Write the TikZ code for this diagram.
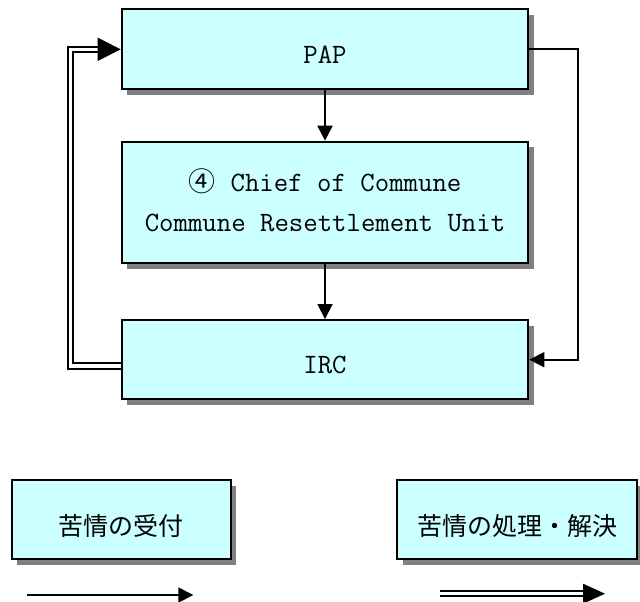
\documentclass[tikz,border=0pt]{standalone}
\usepackage{fontspec}
\newfontfamily\jpfont{Noto Sans CJK JP}
\usetikzlibrary{arrows.meta,shadows}
\definecolor{boxfill}{HTML}{CCFFFF}
\definecolor{shadowgray}{HTML}{808080}

\begin{document}
\begin{tikzpicture}[x=1pt,y=-1pt,
  box/.style={draw=black, line width=2pt, fill=boxfill, inner sep=0pt,
    drop shadow={shadow xshift=5.5pt, shadow yshift=-5.5pt, opacity=1, fill=shadowgray}},
  latin/.style={font=\ttfamily\fontsize{28}{39.3}\selectfont},
  cjk/.style={font=\jpfont\fontsize{25}{30}\selectfont},
  arr/.style={line width=1.8pt, -{Triangle[length=15pt, width=15pt]}},
  dbl/.style={double=white, double distance=3.5pt, line width=2pt}
]
\useasboundingbox (0,0) rectangle (640,602);

% main flow boxes
\node[box, latin, minimum width=406.6pt, minimum height=80pt,
      text height=27.7pt, text depth=0pt] (pap) at (325,49.3) {PAP};
\node[box, latin, align=center, minimum width=406.6pt, minimum height=121.6pt,
      text height=57pt, text depth=0pt] (mid) at (325,202.5)
      {{\jpfont\fontsize{27}{30}\selectfont ④}\hspace{15pt}Chief of Commune\\Commune Resettlement Unit};
\node[box, latin, minimum width=406.6pt, minimum height=79.3pt,
      text height=27.7pt, text depth=0pt] (irc) at (325,359.7) {IRC};

% legend boxes
\node[box, cjk, minimum width=219pt, minimum height=79.3pt,
      text height=30.6pt, text depth=0pt] (recv) at (121.2,519.7) {苦情の受付};
\node[box, cjk, minimum width=240pt, minimum height=79.3pt,
      text height=30.6pt, text depth=0pt] (solve) at (517,519.7) {苦情の処理・解決};

% single-line connectors
\draw[arr] (pap.south) -- (mid.north);
\draw[arr] (mid.south) -- (irc.north);
\draw[arr] (pap.east) -- ++(48.4,0) |- (irc.east);

% double-line connector from IRC back to PAP
\coordinate (pbase) at ([xshift=-23pt]pap.west);
\draw[dbl] ([yshift=-6.2pt]irc.west) -- ++(-50.4,0) |- (pbase);
\fill (pap.west) -- ++(-23,-11.7) -- ++(0,23.4) -- cycle;

% legend arrows
\coordinate (s1) at (26.7,595);
\coordinate (s2) at (193.3,595);
\draw[arr] (s1) -- (s2);

\coordinate (d1) at (440,593.7);
\coordinate (d2) at (583,593.7);
\coordinate (d3) at (605,593.7);
\draw[dbl] (d1) -- (d2);
\fill (d3) -- ++(-22,-10) -- ++(0,20) -- cycle;
\end{tikzpicture}
\end{document}
